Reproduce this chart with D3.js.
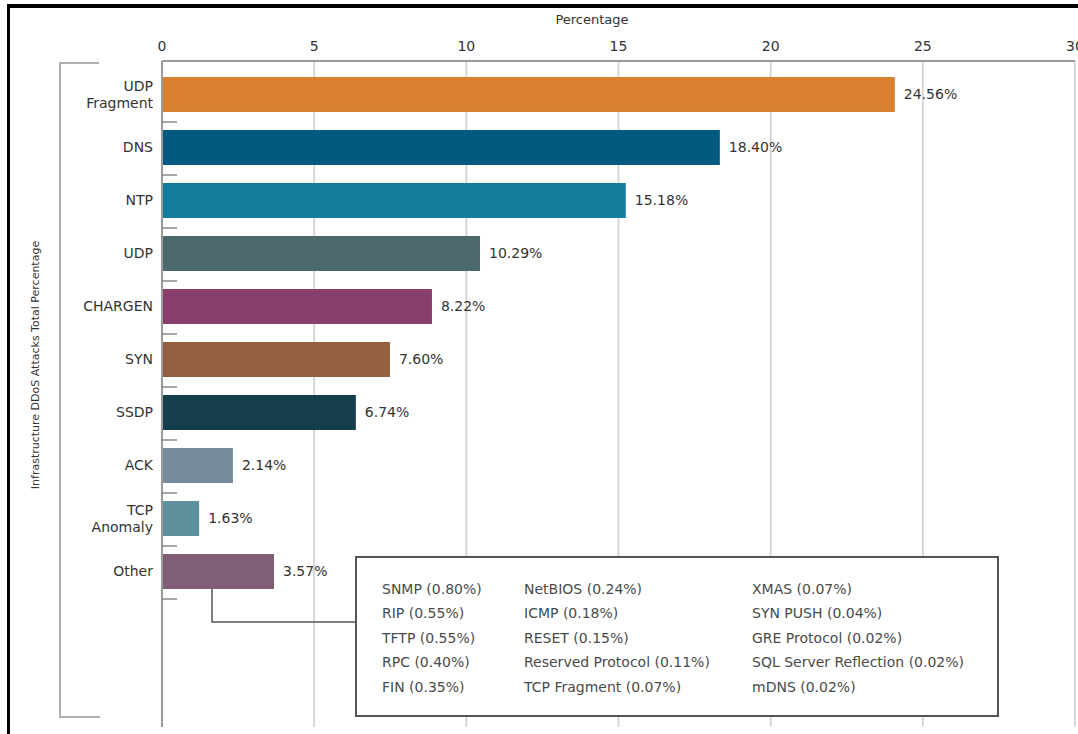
<!DOCTYPE html>
<html>
<head>
<meta charset="utf-8">
<script src="https://cdn.jsdelivr.net/npm/d3@7"></script>
<style>
  body { margin: 0; background: #fff; }
  svg text { font-family: "DejaVu Sans", sans-serif; }
</style>
</head>
<body>
<div id="chart"></div>
<script>
// attack types, top to bottom
const categories = ["UDP Fragment", "DNS", "NTP", "UDP", "CHARGEN", "SYN", "SSDP", "ACK", "TCP Anomaly", "Other"];
// printed percentages
const percentLabels = ["24.56%", "18.40%", "15.18%", "10.29%", "8.22%", "7.60%", "6.74%", "2.14%", "1.63%", "3.57%"];
// bar lengths as drawn in the chart (percent)
const barValues = [24.08, 18.33, 15.24, 10.45, 8.87, 7.49, 6.37, 2.33, 1.22, 3.68];
const barColors = ["#d98032", "#025a80", "#147c9c", "#4c696d", "#893e6b", "#935f40", "#143e4c", "#748a9d", "#5e919e", "#805e76"];
const xTicks = [0, 5, 10, 15, 20, 25, 30];

// breakdown of "Other"
const otherNames = ["SNMP", "RIP", "TFTP", "RPC", "FIN",
  "NetBIOS", "ICMP", "RESET", "Reserved Protocol", "TCP Fragment",
  "XMAS", "SYN PUSH", "GRE Protocol", "SQL Server Reflection", "mDNS"];
const otherValues = ["0.80%", "0.55%", "0.55%", "0.40%", "0.35%",
  "0.24%", "0.18%", "0.15%", "0.11%", "0.07%",
  "0.07%", "0.04%", "0.02%", "0.02%", "0.02%"];

const width = 1078;
const height = 734;

const svg = d3.select("#chart")
  .append("svg")
  .attr("width", width)
  .attr("height", height);

const x = d3.scaleLinear().domain([0, 30]).range([162, 1075]);
const y = d3.scaleBand()
  .domain(categories)
  .range([68, 598])
  .paddingInner(0.34)
  .paddingOuter(0.17);

const axisTop = 61, axisBottom = 727;

// black frame (top and left only)
svg.append("line").attr("x1", 7).attr("x2", width).attr("y1", 6).attr("y2", 6)
  .attr("stroke", "#000").attr("stroke-width", 4);
svg.append("line").attr("x1", 8.5).attr("x2", 8.5).attr("y1", 4).attr("y2", height)
  .attr("stroke", "#000").attr("stroke-width", 3);

// gridlines
svg.selectAll(".grid")
  .data(xTicks.slice(1))
  .enter()
  .append("line")
  .attr("class", "grid")
  .attr("x1", (d) => x(d)).attr("x2", (d) => x(d))
  .attr("y1", axisTop).attr("y2", axisBottom)
  .attr("stroke", "#d3d3d3")
  .attr("stroke-width", 1.8);

// top axis line + zero line
svg.append("line").attr("x1", x(0)).attr("x2", x(30)).attr("y1", axisTop).attr("y2", axisTop)
  .attr("stroke", "#9a9a9a").attr("stroke-width", 2);
svg.append("line").attr("x1", x(0)).attr("x2", x(0)).attr("y1", axisTop).attr("y2", axisBottom)
  .attr("stroke", "#9a9a9a").attr("stroke-width", 2);

// tick labels
svg.selectAll(".xtick")
  .data(xTicks)
  .enter()
  .append("text")
  .attr("class", "xtick")
  .attr("x", (d) => x(d))
  .attr("y", 51)
  .attr("text-anchor", "middle")
  .attr("font-size", 14)
  .attr("fill", "#333")
  .text((d) => d);

svg.append("text")
  .attr("x", 592).attr("y", 24)
  .attr("text-anchor", "middle")
  .attr("font-size", 13)
  .attr("fill", "#333")
  .text("Percentage");

// small ticks below each band
const step = y.step();
svg.selectAll(".ytick")
  .data(categories)
  .enter()
  .append("line")
  .attr("class", "ytick")
  .attr("x1", x(0)).attr("x2", x(0) + 15)
  .attr("y1", (d) => y(d) - y.paddingOuter() * step + step + 1)
  .attr("y2", (d) => y(d) - y.paddingOuter() * step + step + 1)
  .attr("stroke", "#8a8a8a")
  .attr("stroke-width", 1.5);

// left bracket
svg.append("path")
  .attr("d", "M99,63 H60 V717 H100")
  .attr("fill", "none")
  .attr("stroke", "#b0b0b0")
  .attr("stroke-width", 2);

svg.append("text")
  .attr("transform", "translate(39,365) rotate(-90)")
  .attr("text-anchor", "middle")
  .attr("font-size", 11)
  .attr("fill", "#333")
  .text("Infrastructure DDoS Attacks Total Percentage");

// bars
svg.selectAll(".bar")
  .data(categories)
  .enter()
  .append("rect")
  .attr("class", "bar")
  .attr("x", x(0) + 1)
  .attr("y", (d) => y(d))
  .attr("width", (d, i) => x(barValues[i]) - x(0) - 1)
  .attr("height", y.bandwidth())
  .attr("fill", (d, i) => barColors[i]);

// value labels
svg.selectAll(".val")
  .data(categories)
  .enter()
  .append("text")
  .attr("class", "val")
  .attr("x", (d, i) => x(barValues[i]) + 9)
  .attr("y", (d) => y(d) + y.bandwidth() / 2)
  .attr("dy", "0.35em")
  .attr("font-size", 14)
  .attr("fill", "#333")
  .text((d, i) => percentLabels[i]);

// category labels, two words -> two lines where needed
const catLabels = svg.selectAll(".cat")
  .data(categories)
  .enter()
  .append("text")
  .attr("class", "cat")
  .attr("text-anchor", "end")
  .attr("font-size", 14)
  .attr("fill", "#333")
  .attr("y", (d) => y(d) + y.bandwidth() / 2);

catLabels.each(function (d) {
  const words = d === "UDP Fragment" || d === "TCP Anomaly" ? d.split(" ") : [d];
  const t = d3.select(this);
  words.forEach((w, k) => {
    t.append("tspan")
      .attr("x", 153)
      .attr("dy", k === 0 ? (0.35 - (words.length - 1) * 0.6) + "em" : "1.2em")
      .text(w);
  });
});

// connector from Other bar to legend box
const otherY = y("Other") + y.bandwidth();
svg.append("path")
  .attr("d", `M212,${otherY} V622 H356`)
  .attr("fill", "none")
  .attr("stroke", "#555")
  .attr("stroke-width", 1.5);

// legend box
svg.append("rect")
  .attr("x", 356).attr("y", 557)
  .attr("width", 642).attr("height", 159)
  .attr("fill", "#fff")
  .attr("stroke", "#555")
  .attr("stroke-width", 2);

const colX = [382, 524, 752];
svg.selectAll(".other")
  .data(otherNames)
  .enter()
  .append("text")
  .attr("class", "other")
  .attr("x", (d, i) => colX[Math.floor(i / 5)])
  .attr("y", (d, i) => 589 + (i % 5) * 24.4)
  .attr("dy", "0.35em")
  .attr("font-size", 14)
  .attr("fill", "#4a4a4a")
  .text((d, i) => `${d} (${otherValues[i]})`);
</script>
</body>
</html>
